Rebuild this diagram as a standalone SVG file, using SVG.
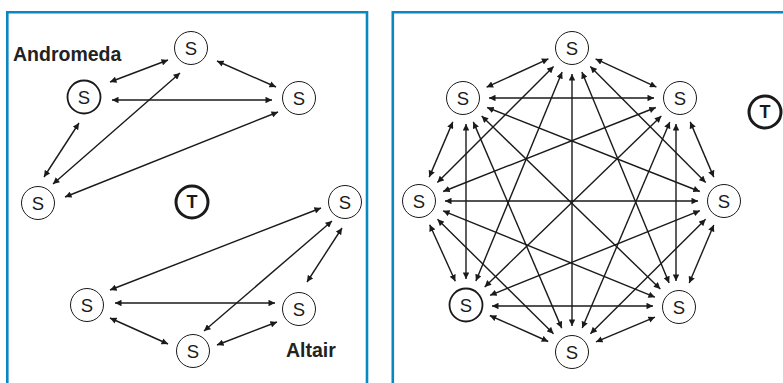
<svg xmlns="http://www.w3.org/2000/svg" width="783" height="383" viewBox="0 0 783 383">
<style>
.panel{fill:none;stroke:#0b87c0;stroke-width:2.6}
.n{fill:#fff;stroke:#1a1a1a;stroke-width:1}
.nb{fill:#fff;stroke:#1a1a1a;stroke-width:1.8}
.t{fill:#fff;stroke:#1a1a1a;stroke-width:3}
.lbl{font-family:"Liberation Sans",Arial,sans-serif;font-size:18.5px;fill:#1a1a1a;text-anchor:middle;dominant-baseline:central}
.tl{font-family:"Liberation Sans",Arial,sans-serif;font-size:18px;font-weight:bold;fill:#1a1a1a;text-anchor:middle;dominant-baseline:central}
.title{font-family:"Liberation Sans",Arial,sans-serif;font-size:19.5px;font-weight:bold;fill:#222}
#edges line{stroke:#1a1a1a;stroke-width:1.4;marker-start:url(#ah);marker-end:url(#ah)}
</style>
<defs>
<marker id="ah" viewBox="0 0 10 10" refX="10" refY="5" markerWidth="7" markerHeight="6.5" orient="auto-start-reverse" markerUnits="userSpaceOnUse">
<path d="M0,0 L10,5 L0,10 z" fill="#1a1a1a"/>
</marker>
</defs>
<rect width="783" height="383" fill="#fff"/>
<path class="panel" d="M7.3,390 V12.3 H367 V390"/>
<path class="panel" d="M392.8,390 V12.3 H790"/>
<text class="title" x="13" y="61">Andromeda</text>
<text class="title" x="286" y="357">Altair</text>
<g id="edges">
<line x1="168" y1="60" x2="110" y2="82"/>
<line x1="217" y1="61" x2="276" y2="87"/>
<line x1="112" y1="100" x2="272" y2="100"/>
<line x1="79" y1="123" x2="44" y2="177"/>
<line x1="180" y1="73" x2="53" y2="184"/>
<line x1="278" y1="112" x2="65" y2="197"/>
<line x1="321" y1="208" x2="110" y2="290"/>
<line x1="332" y1="221" x2="204" y2="331"/>
<line x1="342" y1="228" x2="307" y2="282"/>
<line x1="115" y1="303" x2="275" y2="303"/>
<line x1="110" y1="318" x2="168" y2="344"/>
<line x1="217" y1="345" x2="277" y2="322"/>
<line x1="595.6" y1="58.9" x2="656.4" y2="87.1"/>
<line x1="590.3" y1="66.4" x2="705.7" y2="182.6"/>
<line x1="581.9" y1="72" x2="669.1" y2="283"/>
<line x1="572" y1="74" x2="572" y2="326"/>
<line x1="562.1" y1="72" x2="475.9" y2="281"/>
<line x1="553.6" y1="66.4" x2="437.4" y2="182.6"/>
<line x1="548.4" y1="58.8" x2="486.6" y2="87.2"/>
<line x1="690.2" y1="121.9" x2="713.8" y2="177.1"/>
<line x1="676" y1="124" x2="676" y2="281"/>
<line x1="669.8" y1="121.9" x2="582.2" y2="328.1"/>
<line x1="661.3" y1="116.1" x2="484.7" y2="286.9"/>
<line x1="655.8" y1="107.5" x2="443.2" y2="191.5"/>
<line x1="654" y1="98" x2="489" y2="98"/>
<line x1="713.8" y1="224.9" x2="689.2" y2="283.1"/>
<line x1="705.6" y1="219.3" x2="590.4" y2="333.7"/>
<line x1="699.9" y1="210.7" x2="490.1" y2="295.3"/>
<line x1="698" y1="201" x2="445" y2="201"/>
<line x1="699.8" y1="191.5" x2="487.2" y2="107.5"/>
<line x1="655" y1="317.1" x2="596" y2="341.9"/>
<line x1="653" y1="306" x2="492" y2="306"/>
<line x1="654.9" y1="297.2" x2="443.1" y2="210.8"/>
<line x1="660.3" y1="288.9" x2="481.7" y2="116.1"/>
<line x1="548.2" y1="341.5" x2="489.8" y2="315.5"/>
<line x1="553.5" y1="333.7" x2="437.5" y2="219.3"/>
<line x1="561.7" y1="328.1" x2="473.3" y2="121.9"/>
<line x1="455.3" y1="281.3" x2="429.7" y2="224.7"/>
<line x1="466" y1="279" x2="466" y2="124"/>
<line x1="429.2" y1="177.1" x2="452.8" y2="121.9"/>
</g>
<g id="a1"><circle class="n" cx="191" cy="48" r="16.5"/><text class="lbl" x="191" y="48">S</text></g>
<g id="a2"><circle class="nb" cx="84" cy="97" r="16.5"/><text class="lbl" x="84" y="97">S</text></g>
<g id="a3"><circle class="n" cx="299" cy="98" r="16.5"/><text class="lbl" x="299" y="98">S</text></g>
<g id="a4"><circle class="n" cx="38" cy="203" r="16.5"/><text class="lbl" x="38" y="203">S</text></g>
<g id="t1"><circle class="t" cx="192" cy="202" r="16"/><text class="tl" x="192" y="202">T</text></g>
<g id="b1"><circle class="n" cx="345" cy="202" r="16.5"/><text class="lbl" x="345" y="202">S</text></g>
<g id="b2"><circle class="n" cx="87" cy="305" r="16.5"/><text class="lbl" x="87" y="305">S</text></g>
<g id="b3"><circle class="n" cx="299" cy="309" r="16.5"/><text class="lbl" x="299" y="309">S</text></g>
<g id="b4"><circle class="n" cx="193" cy="351" r="16.5"/><text class="lbl" x="193" y="351">S</text></g>
<g id="r0"><circle class="n" cx="572" cy="48" r="16.5"/><text class="lbl" x="572" y="48">S</text></g>
<g id="r1"><circle class="n" cx="680" cy="98" r="16.5"/><text class="lbl" x="680" y="98">S</text></g>
<g id="r2"><circle class="n" cx="724" cy="201" r="16.5"/><text class="lbl" x="724" y="201">S</text></g>
<g id="r3"><circle class="n" cx="679" cy="307" r="16.5"/><text class="lbl" x="679" y="307">S</text></g>
<g id="r4"><circle class="n" cx="572" cy="352" r="16.5"/><text class="lbl" x="572" y="352">S</text></g>
<g id="r5"><circle class="nb" cx="466" cy="305" r="16.5"/><text class="lbl" x="466" y="305">S</text></g>
<g id="r6"><circle class="n" cx="419" cy="201" r="16.5"/><text class="lbl" x="419" y="201">S</text></g>
<g id="r7"><circle class="n" cx="463" cy="98" r="16.5"/><text class="lbl" x="463" y="98">S</text></g>
<g id="t2"><circle class="t" cx="765" cy="112" r="16"/><text class="tl" x="765" y="112">T</text></g>
</svg>
